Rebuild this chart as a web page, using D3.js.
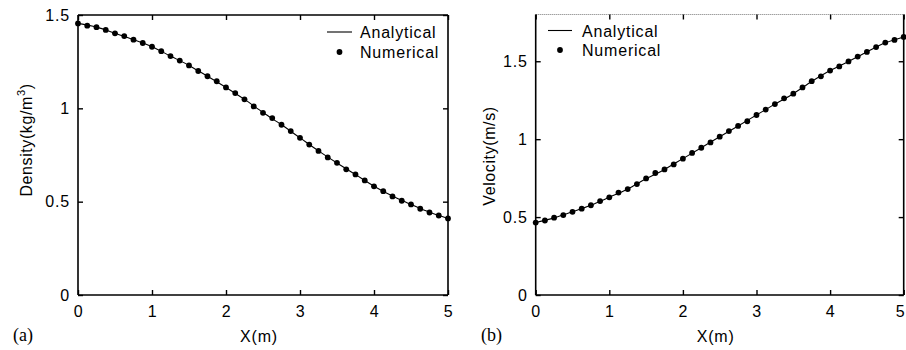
<!DOCTYPE html>
<html>
<head>
<meta charset="utf-8">
<script src="https://cdn.jsdelivr.net/npm/d3@7/dist/d3.min.js"></script>
<style>
  html, body { margin: 0; padding: 0; background: #fff; }
  svg { display: block; }
  text { font-family: "Liberation Sans", Arial, sans-serif; fill: #000; }
  text.tag { font-family: "Liberation Serif", "Times New Roman", serif; }
</style>
</head>
<body>
<svg id="chart" width="906" height="350"></svg>
<script>
// Sample locations of the numerical solution (m)
const numX = [0, 0.125, 0.25, 0.375, 0.5, 0.625, 0.75, 0.875, 1, 1.125, 1.25, 1.375, 1.5, 1.625, 1.75, 1.875,
  2, 2.125, 2.25, 2.375, 2.5, 2.625, 2.75, 2.875, 3, 3.125, 3.25, 3.375, 3.5, 3.625, 3.75, 3.875,
  4, 4.125, 4.25, 4.375, 4.5, 4.625, 4.75, 4.875, 5];
// Locations where the analytical solution is evaluated (m)
const anaX = [0, 0.25, 0.5, 0.75, 1, 1.25, 1.5, 1.75, 2, 2.25, 2.5, 2.75, 3, 3.25, 3.5, 3.75, 4, 4.25, 4.5, 4.75, 5];

// Density (kg/m^3)
const densityNumerical = [1.455, 1.443, 1.435, 1.420, 1.402, 1.387, 1.368, 1.350, 1.330, 1.306, 1.280, 1.256,
  1.230, 1.200, 1.172, 1.145, 1.112, 1.082, 1.048, 1.010, 0.976, 0.948, 0.912, 0.878, 0.842, 0.806,
  0.772, 0.737, 0.708, 0.673, 0.646, 0.614, 0.582, 0.556, 0.528, 0.505, 0.485, 0.462, 0.442, 0.426, 0.410];
const densityAnalytical = [1.455, 1.435, 1.402, 1.368, 1.330, 1.280, 1.230, 1.172, 1.112, 1.048, 0.978,
  0.912, 0.842, 0.772, 0.707, 0.645, 0.583, 0.530, 0.485, 0.443, 0.410];

// Velocity (m/s)
const velocityNumerical = [0.465, 0.478, 0.496, 0.513, 0.534, 0.554, 0.576, 0.603, 0.627, 0.657, 0.680, 0.712,
  0.748, 0.783, 0.806, 0.838, 0.875, 0.912, 0.945, 0.979, 1.016, 1.052, 1.085, 1.115, 1.155, 1.190,
  1.225, 1.262, 1.292, 1.332, 1.372, 1.403, 1.440, 1.467, 1.499, 1.530, 1.560, 1.591, 1.620, 1.637, 1.656];
const velocityAnalytical = [0.465, 0.495, 0.534, 0.576, 0.627, 0.680, 0.746, 0.806, 0.875, 0.945, 1.016,
  1.085, 1.155, 1.225, 1.292, 1.370, 1.440, 1.499, 1.560, 1.618, 1.656];

const xTicks = [0, 1, 2, 3, 4, 5];
const densityTicks = [0, 0.5, 1, 1.5];
const velocityTicks = [0, 0.5, 1, 1.5];
const xDomain = [0, 5];
const densityDomain = [0, 1.5];
const velocityDomain = [0, 1.8];
const legendLabels = ["Analytical", "Numerical"];

const svg = d3.select("#chart");
const fmt = d => d3.format("")(d);
const W = +svg.attr("width");

function panel(opts) {
  const x = d3.scaleLinear().domain(xDomain).range([opts.left, opts.right]);
  const y = d3.scaleLinear().domain(opts.yDomain).range([opts.bottom, opts.top]);
  const g = svg.append("g");

  // Frame
  g.append("line").attr("x1", opts.left).attr("x2", opts.right).attr("y1", opts.bottom).attr("y2", opts.bottom)
    .attr("stroke", "#000").attr("stroke-width", 1.6);
  g.append("line").attr("x1", opts.left).attr("x2", opts.left).attr("y1", opts.top).attr("y2", opts.bottom)
    .attr("stroke", "#000").attr("stroke-width", 1.6);
  g.append("line").attr("x1", opts.right).attr("x2", opts.right).attr("y1", opts.top).attr("y2", opts.bottom)
    .attr("stroke", "#000").attr("stroke-width", 1.6);
  const topLine = g.append("line").attr("x1", opts.left).attr("x2", opts.right).attr("y1", opts.top).attr("y2", opts.top);
  if (opts.dottedTop) topLine.attr("stroke", "#777").attr("stroke-width", 1.2).attr("stroke-dasharray", "1,1");
  else topLine.attr("stroke", "#000").attr("stroke-width", 1.6);

  // Axes with inward ticks
  const bottomAxis = g.append("g").attr("transform", `translate(0,${opts.bottom})`)
    .call(d3.axisBottom(x).tickValues(xTicks).tickFormat(fmt).tickSize(-5).tickPadding(11));
  const leftAxis = g.append("g").attr("transform", `translate(${opts.left},0)`)
    .call(d3.axisLeft(y).tickValues(opts.yTicks).tickFormat(fmt).tickSize(-5).tickPadding(8));
  const topAxis = g.append("g").attr("transform", `translate(0,${opts.top})`)
    .call(d3.axisTop(x).tickValues(xTicks).tickFormat("").tickSize(-5));
  const rightAxis = g.append("g").attr("transform", `translate(${opts.right},0)`)
    .call(d3.axisRight(y).tickValues(opts.yTicks).tickFormat("").tickSize(-5));
  [bottomAxis, leftAxis, topAxis, rightAxis].forEach(a => {
    a.select(".domain").remove();
    a.selectAll(".tick line").attr("stroke", "#000").attr("stroke-width", 1.4);
    a.selectAll("text").attr("font-size", 16).attr("letter-spacing", "0.8px").attr("fill", "#000");
  });
  // Keep the last x label inside the page edge
  bottomAxis.selectAll(".tick text").each(function (d) {
    const box = this.getBBox();
    const tx = x(d) + box.x + box.width;
    if (tx > W - 1) d3.select(this).attr("dx", (W - 1 - tx) + "px");
  });

  // Analytical solution
  const line = d3.line().x((d, i) => x(anaX[i])).y(d => y(d)).curve(d3.curveMonotoneX);
  g.append("path").datum(opts.analytical).attr("d", line)
    .attr("fill", "none").attr("stroke", "#000").attr("stroke-width", 1.1);

  // Numerical solution
  g.append("g").selectAll("circle").data(opts.numerical).join("circle")
    .attr("cx", (d, i) => x(numX[i])).attr("cy", d => y(d)).attr("r", 2.9).attr("fill", "#000");

  // Axis titles
  g.append("text").attr("x", (opts.left + opts.right) / 2 - 4).attr("y", 342)
    .attr("text-anchor", "middle").attr("font-size", 16).attr("letter-spacing", "0.8px").text("X(m)");
  const yt = g.append("text")
    .attr("transform", `translate(${opts.yTitleX},${opts.yTitleY}) rotate(-90)`)
    .attr("text-anchor", "middle").attr("font-size", 16).attr("letter-spacing", "0.6px");
  opts.yTitle(yt);

  // Legend
  const L = opts.legend;
  g.append("line").attr("x1", L.lineX1).attr("x2", L.lineX2).attr("y1", L.y1).attr("y2", L.y1)
    .attr("stroke", "#000").attr("stroke-width", 1.1);
  g.append("circle").attr("cx", (L.lineX1 + L.lineX2) / 2).attr("cy", L.y2).attr("r", 2.9).attr("fill", "#000");
  g.append("text").attr("x", L.textX).attr("y", L.y1 + 6).attr("font-size", 16).attr("letter-spacing", "0.8px").text(legendLabels[0]);
  g.append("text").attr("x", L.textX).attr("y", L.y2 + 6).attr("font-size", 16).attr("letter-spacing", "0.8px").text(legendLabels[1]);

  // Panel tag
  g.append("text").attr("class", "tag").attr("x", opts.tagX).attr("y", 341)
    .attr("font-size", 18).text(opts.tag);
}

panel({
  left: 78, right: 448, top: 15, bottom: 295,
  yDomain: densityDomain, yTicks: densityTicks,
  analytical: densityAnalytical, numerical: densityNumerical,
  yTitleX: 32, yTitleY: 140,
  yTitle: t => {
    t.append("tspan").text("Density(kg/m");
    t.append("tspan").attr("font-size", 11).attr("dy", -7).text("3");
    t.append("tspan").attr("dy", 7).text(")");
  },
  legend: { lineX1: 327, lineX2: 352, textX: 360, y1: 32, y2: 52 },
  tag: "(a)", tagX: 13
});

panel({
  left: 535.7, right: 903.7, top: 14.5, bottom: 295, dottedTop: true,
  yDomain: velocityDomain, yTicks: velocityTicks,
  analytical: velocityAnalytical, numerical: velocityNumerical,
  yTitleX: 495, yTitleY: 156,
  yTitle: t => t.text("Velocity(m/s)"),
  legend: { lineX1: 548, lineX2: 572, textX: 582, y1: 30.5, y2: 50 },
  tag: "(b)", tagX: 481
});
</script>
</body>
</html>
